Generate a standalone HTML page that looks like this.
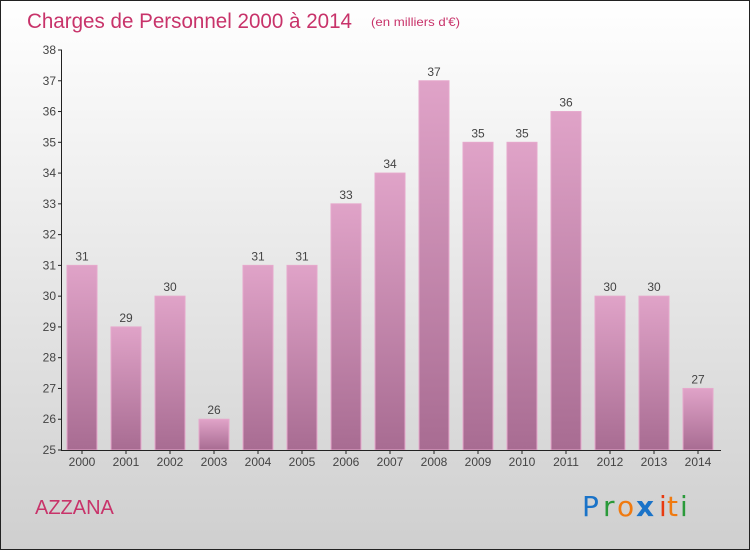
<!DOCTYPE html>
<html><head><meta charset="utf-8"><style>
body{margin:0}
svg{display:block;font-family:"Liberation Sans",sans-serif}
</style></head><body>
<svg id="c" width="750" height="550">
<defs>
<linearGradient id="bg" x1="0" y1="0" x2="0" y2="1"><stop offset="0" stop-color="#ffffff"/><stop offset="1" stop-color="#cfcfcf"/></linearGradient>
<linearGradient id="bar" x1="0" y1="0" x2="0" y2="1"><stop offset="0" stop-color="#e0a3c8"/><stop offset="1" stop-color="#a86c92"/></linearGradient>
</defs>
<rect x="0.5" y="0.5" width="749" height="549" fill="url(#bg)" stroke="#222"/>
<text x="27" y="28" font-size="21" fill="#c8336a" textLength="325" lengthAdjust="spacingAndGlyphs">Charges de Personnel 2000 à 2014</text>
<text x="371" y="26" font-size="12" fill="#c8336a" textLength="89" lengthAdjust="spacingAndGlyphs">(en milliers d'€)</text>
<text x="35" y="514" font-size="20" fill="#c8336a">AZZANA</text>
<g font-size="28" font-family="'DejaVu Sans',sans-serif">
<text x="582" y="516" fill="#1a73c8">P</text><text x="603" y="516" fill="#2a9a3a">r</text><text x="617" y="516" fill="#f07a10">o</text><text x="636" y="516" fill="#1a73c8" font-weight="bold">x</text><text x="659" y="516" fill="#e83a10">i</text><text x="667" y="516" fill="#f07a10">t</text><text x="680" y="516" fill="#2a9a3a">i</text>
</g>
<g id="plot"></g>
</svg>
<script>
const years=["2000","2001","2002","2003","2004","2005","2006","2007","2008","2009","2010","2011","2012","2013","2014"];
const values=[31,29,30,26,31,31,33,34,37,35,35,36,30,30,27];
const yTicks=[25,26,27,28,29,30,31,32,33,34,35,36,37,38];
const NS="http://www.w3.org/2000/svg";
const g=document.getElementById('plot');
const y=v=>450-(v-25)*(400/13);
const x=i=>82+i*44;
function mk(t,a,txt){const e=document.createElementNS(NS,t);for(const k in a)e.setAttribute(k,a[k]);if(txt!=null)e.textContent=txt;g.appendChild(e);return e;}
values.forEach((v,i)=>{
 const r=mk('rect',{x:x(i)-15,y:y(v),width:30,height:450-y(v),fill:'url(#bar)',stroke:'#e6a8cc','stroke-width':1});
 
 
 const l=mk('text',{x:x(i),y:y(v)-5,'text-anchor':'middle','font-size':12,fill:'#444'},v);
 
 
 const xl=mk('text',{x:x(i),y:466,'text-anchor':'middle','font-size':12,fill:'#444'},years[i]);
 
 
 const t=mk('line',{x1:x(i),x2:x(i),y1:450,y2:454,stroke:'#222'});
 
 
});
yTicks.forEach(v=>{
 const t=mk('line',{x1:58,x2:62,y1:y(v),y2:y(v),stroke:'#222'});
 
 
 const l=mk('text',{x:56,y:y(v)+4,'text-anchor':'end','font-size':12,fill:'#444'},v);
 
 
});
const ya=mk('line',{x1:61.5,x2:61.5,y1:50,y2:450,stroke:'#222'});


const xa=mk('line',{x1:61,x2:721,y1:450.5,y2:450.5,stroke:'#222'});


</script>
</body></html>
